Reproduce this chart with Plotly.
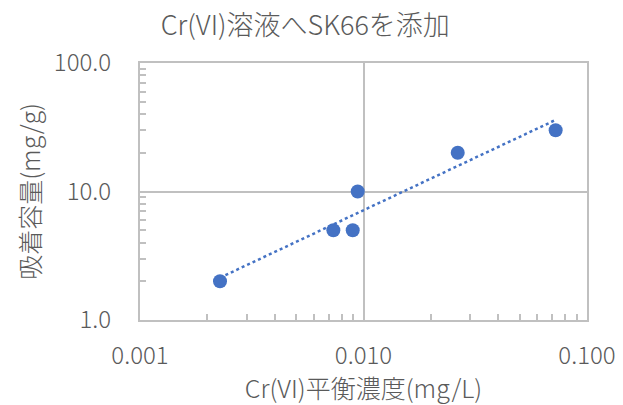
import numpy as np
import plotly.graph_objects as go

# Data
conc = [0.00228, 0.00733, 0.00895, 0.00942, 0.0264, 0.0724]   # Cr(VI) equilibrium concentration (mg/L)
capacity = [2.0, 5.0, 5.0, 10.0, 20.0, 30.0]                    # adsorption capacity (mg/g)

title_text = "Cr(VI)溶液へSK66を添加"
x_title = "Cr(VI)平衡濃度(mg/L)"
y_title = "吸着容量(mg/g)"

# Power trendline (least squares in log-log space)
lx = np.log10(conc)
ly = np.log10(capacity)
b, a = np.polyfit(lx, ly, 1)
tx = np.logspace(lx.min(), lx.max(), 60)
ty = 10 ** (a + b * np.log10(tx))

FONT = "Noto Sans CJK JP"
GRAY = "#5a5a5a"
LINE = "#C0C0C0"
BLUE = "#4472C4"

fig = go.Figure()
fig.add_trace(go.Scatter(x=tx, y=ty, mode="lines",
                         line=dict(color=BLUE, width=2.5, dash="dot"),
                         hoverinfo="skip", showlegend=False))
fig.add_trace(go.Scatter(x=conc, y=capacity, mode="markers",
                         marker=dict(color=BLUE, size=14), showlegend=False))

axis_common = dict(
    type="log", showline=True, linecolor=LINE, linewidth=2, mirror=True,
    showgrid=True, gridcolor=LINE, gridwidth=2, zeroline=False,
    ticks="inside", ticklen=6, tickcolor=LINE, tickwidth=2,
    tickfont=dict(family=FONT, size=24, color=GRAY, weight=300),
    dtick=1, automargin=False,
    minor=dict(ticks="inside", ticklen=6, tickcolor=LINE, tickwidth=2,
               dtick="D1", showgrid=False),
)

fig.update_xaxes(**axis_common, range=[-3, -1], tickformat=".3f",
                 ticklabelstandoff=13,
                 title=dict(text=x_title, font=dict(family=FONT, size=25, color=GRAY, weight=300),
                            standoff=6))
fig.update_yaxes(**axis_common, range=[0, 2], tickformat=".1f",
                 ticklabelstandoff=22,
                 title=dict(text=y_title, font=dict(family=FONT, size=25, color=GRAY, weight=300),
                            standoff=6))

fig.update_layout(
    width=623, height=405,
    margin=dict(l=140, r=36, t=63, b=85),
    paper_bgcolor="white", plot_bgcolor="white",
    title=dict(text=title_text, x=0.49, xanchor="center", y=1 - 26 / 405,
               yanchor="middle", automargin=False,
               font=dict(family=FONT, size=27, color=GRAY, weight=300)),
)

fig.write_html("out.html")
